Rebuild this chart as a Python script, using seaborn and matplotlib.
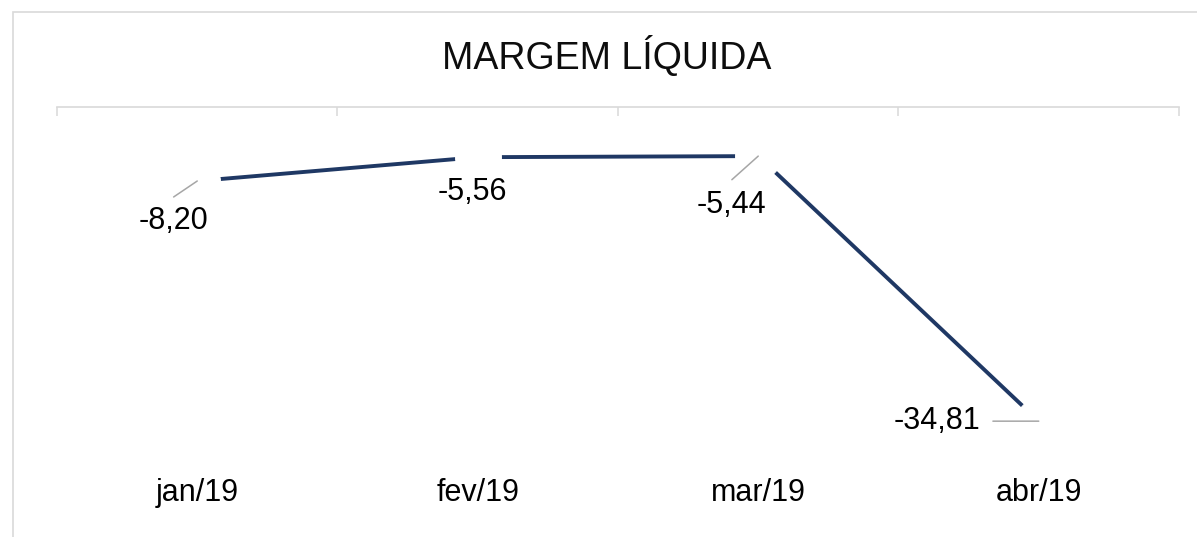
import matplotlib.pyplot as plt
import seaborn as sns
import pandas as pd
import numpy as np
from matplotlib.patches import Rectangle


# Dados do gráfico (margem líquida mensal, %)
meses = ["jan/19", "fev/19", "mar/19", "abr/19"]
margem = [-8.20, -5.56, -5.44, -34.81]
rotulos = ["-8,20", "-5,56", "-5,44", "-34,81"]
titulo = "MARGEM LÍQUIDA"

# deslocamento dos rótulos em relação ao ponto (pontos tipográficos)
offset_rotulos = [(-17, -28.5), (-4, -25), (-19, -35), (-73, 0)]
# início da linha guia em relação ao ponto (None = sem linha guia)
offset_guia = [(-17, -11.5), None, (-19, -17), (-33, 0)]

COR_LINHA = "#1F3864"
COR_CINZA = "#D9D9D9"

sns.set_style("white")
plt.rcParams['font.family'] = ['Liberation Sans', 'DejaVu Sans']

fig = plt.figure(figsize=(11.97, 5.37), dpi=100)
ax = fig.add_axes([57 / 1197, 1 - 468 / 537, (1179 - 57) / 1197, (468 - 107) / 537])

df = pd.DataFrame({"Mes": meses, "Margem": margem})

# linha com marcadores brancos grandes (cria o "vão" em volta de cada ponto, como no Excel)
sns.lineplot(data=df, x="Mes", y="Margem", sort=False, color=COR_LINHA, linewidth=2.8,
             marker="o", markersize=33, markerfacecolor="white", markeredgecolor="white", ax=ax)

# rótulos de dados e linhas guia
for i, (val, txt) in enumerate(zip(margem, rotulos)):
    dx, dy = offset_rotulos[i]
    ax.annotate(txt, xy=(i, val), xytext=(dx, dy), textcoords="offset points",
                ha="center", va="center", fontsize=22, color="black", zorder=5)
    if offset_guia[i] is not None:
        ax.annotate("", xy=(i, val), xytext=offset_guia[i], textcoords="offset points",
                    arrowprops=dict(arrowstyle="-", color="#A6A6A6", lw=1.1, shrinkA=0, shrinkB=0),
                    zorder=5)

# eixo de categorias no zero (topo) com marcas entre categorias
ax.set_xlim(-0.5, len(meses) - 0.5)
ax.set_ylim(-40, 0)
ax.set_xticks(np.arange(len(meses)))
ax.set_xticklabels(meses)
ax.set_xticks(np.arange(len(meses) + 1) - 0.5, minor=True)
ax.tick_params(axis="x", which="major", length=0, labelsize=22, pad=7, labelcolor="black",
               bottom=True, top=False)
ax.tick_params(axis="x", which="minor", length=6.5, width=1.1, color=COR_CINZA,
               direction="in", top=True, bottom=False)
ax.set_yticks([])
ax.set_xlabel("")
ax.set_ylabel("")
for lado in ["left", "right", "bottom"]:
    ax.spines[lado].set_visible(False)
ax.spines["top"].set_color(COR_CINZA)
ax.spines["top"].set_linewidth(1.2)
if ax.get_legend() is not None:
    ax.get_legend().remove()

# título
fig.text(607 / 1197, 1 - 56 / 537, titulo, ha="center", va="center", fontsize=27, color="#0D0D0D")

# borda da área do gráfico (cortada à direita e embaixo)
fig.patches.append(Rectangle((13 / 1197, -0.1), 1.2, 1.1 - 12 / 537, transform=fig.transFigure,
                             fill=False, edgecolor=COR_CINZA, linewidth=1.2))

fig.savefig("out.png", dpi=100)
